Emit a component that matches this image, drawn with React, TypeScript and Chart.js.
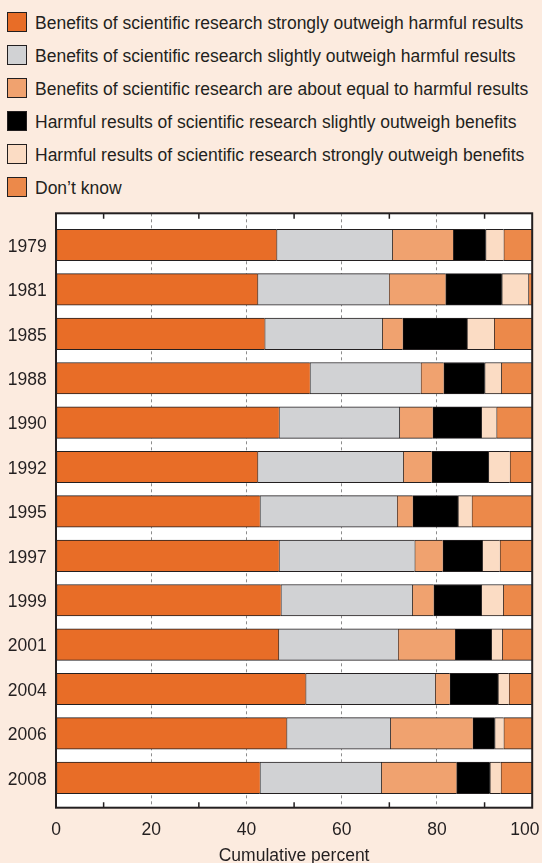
import React, { useEffect, useRef } from "react";
import { Chart, registerables } from "chart.js";

Chart.register(...registerables);

const years = ["1979", "1981", "1985", "1988", "1990", "1992", "1995", "1997", "1999", "2001", "2004", "2006", "2008"];

const strongBenefit = [46.3, 42.3, 43.8, 53.3, 46.8, 42.3, 42.8, 46.8, 47.2, 46.7, 52.4, 48.4, 42.8];
const slightBenefit = [24.3, 27.6, 24.7, 23.3, 25.3, 30.6, 28.8, 28.5, 27.6, 25.1, 27.2, 21.8, 25.5];
const aboutEqual = [12.8, 11.9, 4.3, 4.8, 7.0, 6.0, 3.3, 5.9, 4.5, 12.0, 3.1, 17.3, 15.8];
const slightHarm = [6.8, 11.8, 13.5, 8.6, 10.2, 11.9, 9.5, 8.3, 10.0, 7.6, 10.1, 4.6, 7.0];
const strongHarm = [3.8, 5.6, 5.7, 3.5, 3.2, 4.5, 2.9, 3.7, 4.6, 2.3, 2.3, 1.9, 2.3];
const dontKnow = [6.0, 0.8, 8.0, 6.5, 7.5, 4.7, 12.7, 6.8, 6.1, 6.3, 4.9, 6.0, 6.6];

const seriesLabels = [
  "Benefits of scientific research strongly outweigh harmful results",
  "Benefits of scientific research slightly outweigh harmful results",
  "Benefits of scientific research are about equal to harmful results",
  "Harmful results of scientific research slightly outweigh benefits",
  "Harmful results of scientific research strongly outweigh benefits",
  "Don\u2019t know",
];
const seriesColors = ["#e86d27", "#d1d2d4", "#f0a26f", "#000000", "#fbdcc4", "#ec894a"];
const seriesValues = [strongBenefit, slightBenefit, aboutEqual, slightHarm, strongHarm, dontKnow];

const xTickValues = [0, 20, 40, 60, 80, 100];
const minorTicks = [10, 30, 50, 70, 90];
const xTitle = "Cumulative percent";

const FONT = "'Liberation Sans', Arial, Helvetica, sans-serif";
const INK = "#231f20";
const FS = 17.5;

const framePlugin = {
  id: "frame",
  beforeDraw(chart: any) {
    const { ctx, chartArea: a } = chart;
    ctx.save();
    ctx.fillStyle = "#ffffff";
    ctx.fillRect(a.left, a.top, a.right - a.left, a.bottom - a.top);
    ctx.restore();
  },
  afterDraw(chart: any) {
    const { ctx, chartArea: a, scales } = chart;
    const xs = scales.x;
    ctx.save();
    ctx.strokeStyle = INK;
    ctx.lineWidth = 1.5;
    ctx.beginPath();
    minorTicks.forEach((v) => {
      const px = xs.getPixelForValue(v);
      ctx.moveTo(px, a.top);
      ctx.lineTo(px, a.top + 5.5);
      ctx.moveTo(px, a.bottom);
      ctx.lineTo(px, a.bottom - 5.5);
    });
    ctx.stroke();
    ctx.lineWidth = 2;
    ctx.strokeRect(a.left, a.top, a.right - a.left, a.bottom - a.top);
    ctx.restore();
  },
};

export default function App() {
  const canvasRef = useRef<HTMLCanvasElement | null>(null);

  useEffect(() => {
    if (!canvasRef.current) return;
    const datasets = seriesValues.map((vals, k) => ({
      label: seriesLabels[k],
      data: vals.map((v, i) => ({ x: v, y: i })),
      backgroundColor: seriesColors[k],
      borderColor: INK,
      borderWidth: { top: 1, bottom: 1, left: 1, right: 0 },
      borderSkipped: false,
      barThickness: 31.5,
    }));
    const chart = new Chart(canvasRef.current, {
      type: "bar",
      data: { datasets },
      options: {
        indexAxis: "y",
        animation: false,
        responsive: false,
        devicePixelRatio: 1,
        layout: { padding: { top: 213.3, right: 9.8, left: 0, bottom: 0 } },
        plugins: { legend: { display: false }, tooltip: { enabled: false } },
        scales: {
          x: {
            type: "linear",
            stacked: true,
            offset: false,
            min: 0,
            max: 100,
            afterBuildTicks: (axis: any) => {
              axis.ticks = xTickValues.map((v) => ({ value: v }));
            },
            afterFit: (scale: any) => {
              scale.height = 863 - 807.7;
              scale.paddingLeft = 0;
              scale.paddingRight = 0;
            },
            ticks: {
              color: INK,
              font: { family: FONT, size: FS },
              padding: 12,
              maxRotation: 0,
              autoSkip: false,
              callback: (v: any) => (v === 100 ? "100\u00a0\u00a0\u00a0" : String(v)),
            },
            grid: {
              drawTicks: false,
              lineWidth: 1,
              color: (ctx: any) => {
                const v = ctx.tick ? ctx.tick.value : 0;
                return v === 0 || v === 100 ? "rgba(0,0,0,0)" : "#8c8c8c";
              },
            },
            border: { display: false, dash: [3, 3] },
            title: {
              display: true,
              text: xTitle,
              color: INK,
              font: { family: FONT, size: FS, lineHeight: 0.8 },
              padding: { top: 0, bottom: 0 },
            },
          },
          y: {
            type: "linear",
            stacked: true,
            offset: false,
            reverse: true,
            min: -0.714,
            max: 12.673,
            afterBuildTicks: (axis: any) => {
              axis.ticks = years.map((_, i) => ({ value: i }));
            },
            afterFit: (scale: any) => {
              scale.width = 56;
              scale.paddingTop = 0;
              scale.paddingBottom = 0;
            },
            ticks: {
              color: INK,
              font: { family: FONT, size: FS },
              padding: 9.3,
              labelOffset: 2,
              autoSkip: false,
              callback: (v: any) => years[v as number] ?? "",
            },
            grid: { display: false, drawTicks: false, offset: false },
            border: { display: false },
          },
        },
      },
      plugins: [framePlugin],
    } as any);
    return () => chart.destroy();
  }, []);

  return (
    <div
      style={{
        position: "fixed",
        left: 0,
        top: 0,
        width: 542,
        height: 863,
        background: "#fcebdf",
        overflow: "hidden",
        fontFamily: FONT,
      }}
    >
      {seriesLabels.map((lab, k) => (
        <div key={k}>
          <div
            style={{
              position: "absolute",
              left: 7.3,
              top: 11.7 + 33 * k,
              width: 20,
              height: 20,
              boxSizing: "border-box",
              border: `1px solid ${INK}`,
              background: seriesColors[k],
            }}
          />
          <div
            style={{
              position: "absolute",
              left: 35,
              top: 11.7 + 33 * k + 1.3,
              fontSize: FS,
              lineHeight: "20px",
              color: INK,
              whiteSpace: "nowrap",
            }}
          >
            {lab}
          </div>
        </div>
      ))}
      <canvas
        ref={canvasRef}
        width={542}
        height={863}
        style={{ position: "absolute", left: 0, top: 0, width: 542, height: 863 }}
      />
    </div>
  );
}
